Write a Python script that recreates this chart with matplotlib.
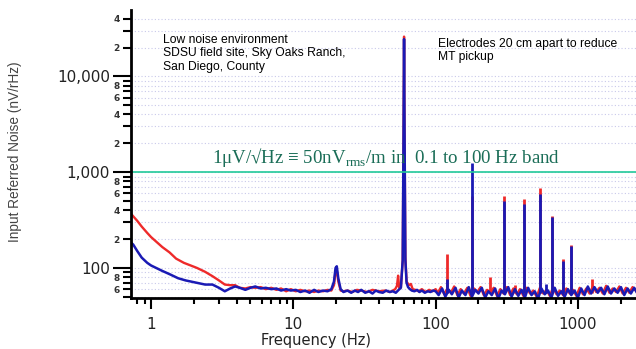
import numpy as np
import matplotlib
matplotlib.use("Agg")
import matplotlib.pyplot as plt
from matplotlib.ticker import FixedLocator, FuncFormatter, LogLocator, NullFormatter

plt.rcParams["mathtext.fontset"] = "custom"
plt.rcParams["mathtext.rm"] = "Liberation Serif"

# Noise floor (Hz, nV/rtHz)
blue_freq = [0.72, 0.75, 0.8, 0.86, 0.94, 1.0, 1.1, 1.2, 1.35, 1.55, 1.75, 2.0, 2.2, 2.4, 2.7,
             3.0, 3.3, 3.6, 3.9, 4.2, 4.6, 5.0, 5.4, 5.9, 6.4, 7.0, 7.6, 8.2, 8.9, 9.6, 10.4,
             11.2, 12.1, 13.0, 14.0, 15.0, 16.2, 17.4, 18.5, 19.3, 19.8, 20.2, 20.7, 21.5, 22.5,
             24, 25.5, 27, 28.5, 30, 32, 34, 36, 38, 40, 42.5, 45, 47.5, 50, 52.5, 55, 57,
             58.7, 59.5, 60.0, 60.5, 61.3, 62.5, 64, 66, 68, 71, 74, 77, 80, 84, 88, 92, 96,
             100, 105, 111, 117, 124, 130, 138, 145, 153, 162, 171, 180, 190, 200, 211, 223,
             235, 248, 262, 276, 291, 307, 324, 342, 361, 381, 402, 424, 447, 472, 498, 525,
             554, 585, 617, 651, 687, 725, 765, 807, 851, 898, 948, 1000, 1055, 1113, 1174,
             1239, 1307, 1379, 1455, 1535, 1620, 1709, 1803, 1902, 2007, 2117, 2234, 2357,
             2487, 2600]
blue_nv = [185, 175, 150, 128, 113, 106, 99, 93, 86, 78, 74, 71, 69, 67, 67,
           62, 57, 61, 64, 62, 59, 62, 64, 61, 62, 60, 61, 58, 60, 58, 59,
           56, 58, 55, 59, 56, 58, 57, 60, 72, 100, 104, 78, 60, 56,
           58, 55, 58, 56, 59, 55, 57, 54, 58, 56, 55, 58, 56, 57, 55, 59, 62,
           120, 2500, 24500, 2500, 120, 70, 63, 60, 58, 57, 59, 56, 58, 55, 57, 56, 58,
           57, 52, 61, 50, 59, 53, 62, 49, 58, 52, 63, 50, 59, 54, 62, 49,
           57, 52, 61, 48, 58, 53, 63, 50, 60, 51, 59, 49, 62, 52, 57, 48,
           61, 53, 58, 49, 62, 51, 57, 50, 60, 52, 58, 49, 61, 52, 64,
           54, 63, 55, 62, 53, 64, 54, 61, 55, 63, 52, 61, 54,
           62, 55]

red_freq = [0.72, 0.75, 0.8, 0.86, 0.94, 1.0, 1.1, 1.2, 1.35, 1.5, 1.7, 1.9, 2.1, 2.4, 2.7,
            3.0, 3.3, 3.6, 3.9, 4.2, 4.6, 5.0, 5.4, 5.9, 6.4, 7.0, 7.6, 8.2, 8.9, 9.6, 10.4,
            11.2, 12.1, 13.0, 14.0, 15.0, 16.2, 17.4, 18.5, 19.3, 19.8, 20.2, 20.7, 21.5, 22.5,
            24, 26, 28, 30, 33, 36, 40, 44, 48, 52, 53.5, 54.5, 55.5, 57,
            58.7, 59.5, 60.0, 60.5, 61.3, 62.5, 65, 67, 69, 72, 76, 80, 85, 90, 95,
            100, 104, 109, 115, 121, 128, 135, 142, 150, 158, 167, 176, 186, 196, 207, 218,
            230, 243, 256, 270, 285, 300, 317, 334, 352, 372, 392, 414, 437, 461, 486, 513,
            541, 571, 602, 635, 670, 707, 746, 787, 830, 876, 924, 975, 1029, 1085, 1145,
            1208, 1274, 1344, 1418, 1496, 1578, 1665, 1757, 1853, 1955, 2063, 2176, 2296,
            2422, 2600]
red_nv = [370, 345, 310, 270, 232, 210, 185, 165, 145, 125, 113, 106, 100, 91, 82,
          74, 67, 66, 66, 62, 61, 63, 62, 63, 60, 62, 59, 61, 57, 60, 57,
          59, 57, 58, 56, 58, 57, 59, 58, 66, 92, 95, 72, 58, 57,
          58, 56, 59, 58, 56, 59, 57, 58, 56, 60, 65, 83, 62, 63,
          120, 2500, 26000, 2500, 130, 72, 66, 68, 60, 59, 57, 60, 56, 59, 57,
          60, 55, 63, 53, 61, 55, 64, 52, 60, 54, 62, 51, 61, 56, 63, 52,
          59, 55, 62, 51, 60, 54, 63, 52, 61, 53, 60, 51, 62, 54, 58, 50,
          62, 54, 59, 51, 63, 53, 58, 52, 61, 54, 59, 51, 62, 53, 61,
          54, 64, 56, 62, 54, 65, 55, 61, 56, 64, 54, 62, 55,
          63, 56]

# Power-line harmonics (Hz, peak nV/rtHz)
red_spike_freq = [120, 180, 240, 300, 360, 420, 540, 660, 780, 900, 1260]
red_spike_nv = [140, 560, 80, 560, 66, 520, 680, 350, 125, 175, 76]
blue_spike_freq = [120, 180, 300, 420, 540, 600, 660, 780, 900]
blue_spike_nv = [76, 1250, 500, 460, 590, 68, 340, 118, 170]

fig = plt.figure(figsize=(6.36, 3.49), dpi=100)
ax = fig.add_axes([131 / 636, 1 - 298 / 349, 505 / 636, 288 / 349])

ax.plot(red_freq, red_nv, color="#ee2a2a", lw=1.7)
ax.vlines(red_spike_freq, 55, red_spike_nv, color="#ee2a2a", lw=2)
ax.plot(blue_freq, blue_nv, color="#1a1ab4", lw=1.8)
ax.vlines(blue_spike_freq, 55, blue_spike_nv, color="#1a1ab4", lw=2)

ax.axhline(1000, color="#22c99a", lw=1.2)

ax.set_xscale("log")
ax.set_yscale("log")
ax.set_xlim(0.723, 2560)
ax.set_ylim(48.5, 49300)

for s in ["top", "right"]:
    ax.spines[s].set_visible(False)
for s in ["left", "bottom"]:
    ax.spines[s].set_linewidth(2)

ax.yaxis.set_major_locator(FixedLocator([100, 1000, 10000]))
ax.yaxis.set_major_formatter(FuncFormatter(lambda v, p: f"{v:,.0f}"))
ax.yaxis.set_minor_locator(LogLocator(subs=range(2, 10), numticks=20))


def minor_fmt(v, pos):
    d = int(round(v / 10 ** np.floor(np.log10(v) + 1e-9)))
    return str(d) if d in (2, 4, 6, 8) else ""


ax.yaxis.set_minor_formatter(FuncFormatter(minor_fmt))
ax.xaxis.set_minor_locator(LogLocator(subs=range(2, 10), numticks=20))
ax.xaxis.set_minor_formatter(NullFormatter())
ax.xaxis.set_major_formatter(FuncFormatter(lambda v, p: f"{v:g}"))

ax.tick_params(axis="y", which="major", length=13, width=1.5, pad=2, labelsize=11, labelcolor="#222222")
ax.tick_params(axis="y", which="minor", length=6, width=1.5, pad=2, labelsize=6.5, labelcolor="#333333")
ax.tick_params(axis="x", which="major", length=8, width=1.5, pad=6, labelsize=11, labelcolor="#222222")
ax.tick_params(axis="x", which="minor", length=4.5, width=1.5)
for t in ax.yaxis.get_minorticklabels():
    t.set_fontweight("bold")

ax.yaxis.grid(True, which="both", linestyle=(0, (1, 2)), color="#c9c9ea", lw=0.8)
ax.set_axisbelow(True)

fig.text(316 / 636, 1 - 340 / 349, "Frequency (Hz)", ha="center", va="center",
         fontsize=10.5, color="#222222")
fig.text(15 / 636, 1 - 152 / 349, "Input Referred Noise (nV/rHz)", rotation=90,
         ha="center", va="center", fontsize=9.8, color="#444444", family="Liberation Sans")

fig.text(163 / 636, 1 - 34 / 349,
         "Low noise environment\nSDSU field site, Sky Oaks Ranch,\nSan Diego, County",
         ha="left", va="top", fontsize=8.7, family="Liberation Sans", linespacing=1.15)
fig.text(438 / 636, 1 - 38 / 349, "Electrodes 20 cm apart to reduce\nMT pickup",
         ha="left", va="top", fontsize=8.7, family="Liberation Sans", linespacing=1.15)

fig.text(212 / 636, 1 - 163 / 349,
         r"1μV/√Hz ≡ 50nV$_{\rm rms}$/m in  0.1 to 100 Hz band",
         ha="left", va="baseline", fontsize=13.6, color="#1a6d57", family="Liberation Serif")

fig.savefig("out.png", dpi=100)
